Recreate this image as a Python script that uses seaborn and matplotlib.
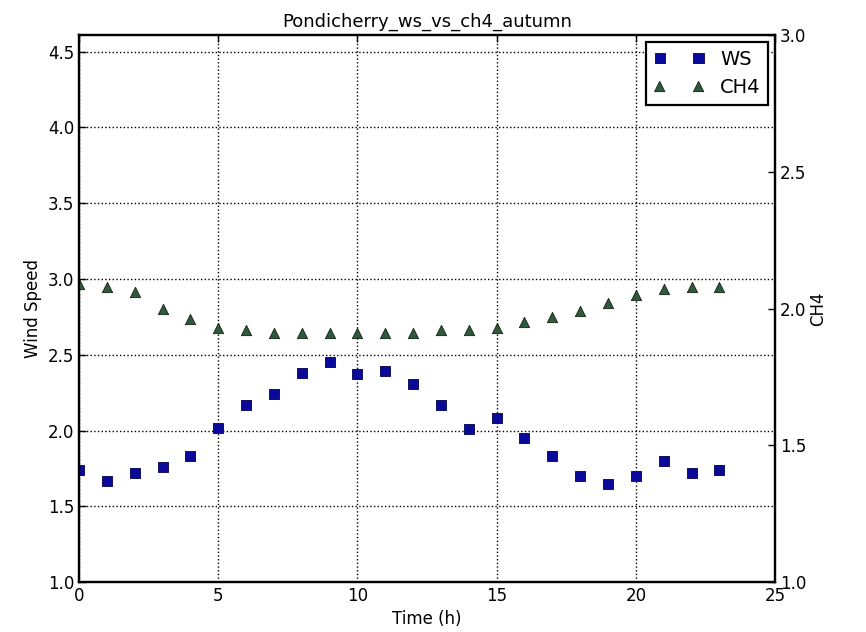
import matplotlib
matplotlib.use("Agg")
import matplotlib.pyplot as plt
import seaborn as sns
import pandas as pd

hours = list(range(24))
wind_speed = [1.74, 1.67, 1.72, 1.76, 1.83, 2.02, 2.17, 2.24, 2.38, 2.45, 2.37, 2.39,
              2.31, 2.17, 2.01, 2.08, 1.95, 1.83, 1.70, 1.65, 1.70, 1.80, 1.72, 1.74]
ch4 = [2.09, 2.08, 2.06, 2.00, 1.96, 1.93, 1.92, 1.91, 1.91, 1.91, 1.91, 1.91,
       1.91, 1.92, 1.92, 1.93, 1.95, 1.97, 1.99, 2.02, 2.05, 2.07, 2.08, 2.08]

df = pd.DataFrame({"hour": hours, "ws": wind_speed, "ch4": ch4})

sns.set_style("white")
plt.rcParams.update({
    "font.family": ["DejaVu Sans"],
    "font.size": 12,
    "text.color": "black",
    "axes.labelcolor": "black",
    "xtick.color": "black",
    "ytick.color": "black",
    "xtick.direction": "in",
    "ytick.direction": "in",
    "xtick.top": True,
    "xtick.major.size": 5,
    "ytick.major.size": 5,
    "axes.edgecolor": "black",
    "axes.linewidth": 1.6,
})

fig = plt.figure(figsize=(8.66, 6.32), dpi=100)
ax = fig.add_axes([0.0912, 0.079, 0.8038, 0.8656])
ax2 = ax.twinx()

sns.scatterplot(data=df, x="hour", y="ws", ax=ax, marker="s", s=55,
                color="#0a0a9a", edgecolor="#000050", linewidth=0.6, label="WS", legend=False)
sns.scatterplot(data=df, x="hour", y="ch4", ax=ax2, marker="^", s=55,
                color="#2e5a3a", edgecolor="#102010", linewidth=0.6, label="CH4", legend=False)

ax.set_xlim(0, 25)
ax.set_ylim(1.0, 4.61)
ax2.set_ylim(1.0, 3.0)
ax.set_xticks([0, 5, 10, 15, 20, 25])
ax.set_yticks([1.0, 1.5, 2.0, 2.5, 3.0, 3.5, 4.0, 4.5])
ax2.set_yticks([1.0, 1.5, 2.0, 2.5, 3.0])

ax.grid(True, color="black", linestyle=":", linewidth=1.0)
ax2.grid(False)

ax.set_xlabel("Time (h)", fontsize=12)
ax.set_ylabel("Wind Speed", fontsize=12)
ax2.set_ylabel("CH4", fontsize=12, labelpad=2)
ax.set_title("Pondicherry_ws_vs_ch4_autumn", fontsize=13, color="black")

ax.tick_params(axis="both", labelsize=12, width=1, direction="in")
ax2.tick_params(axis="y", labelsize=12, width=1, direction="in")
for sp in ax2.spines.values():
    sp.set_linewidth(1.6)

h1, l1 = ax.get_legend_handles_labels()
h2, l2 = ax2.get_legend_handles_labels()
leg = ax2.legend(h1 + h2, l1 + l2, loc="upper right", fontsize=14, scatterpoints=2,
                 scatteryoffsets=[0.5], handlelength=2.6, fancybox=False, framealpha=1,
                 edgecolor="black", borderaxespad=0.35)
leg.get_frame().set_linewidth(1.6)

fig.savefig("out.png", dpi=100)
